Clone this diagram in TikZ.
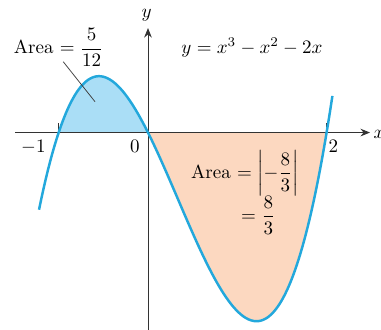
\documentclass[tikz,border=0pt]{standalone}
\usepackage{amsmath}
\usetikzlibrary{arrows.meta}
\definecolor{curveblue}{RGB}{35,168,220}
\definecolor{fillblue}{RGB}{170,222,246}
\definecolor{fillorange}{RGB}{252,216,192}
\begin{document}
\begin{tikzpicture}[x=1.65cm,y=1.65cm,
  axis/.style={line width=0.5pt,black!80},
  axisarrow/.style={axis,-{Stealth[length=5pt,width=4pt]}},
  curve/.style={curveblue,line width=1.3pt},
  lbl/.style={inner sep=1pt,font=\normalsize}]
\useasboundingbox (-1.657,-2.200) rectangle (2.609,1.484);
% fills
\fill[fillblue] plot[domain=-1:0,samples=60,smooth] (\x,{\x*\x*\x-\x*\x-2*\x}) -- cycle;
\fill[fillorange] plot[domain=0:2,samples=80,smooth] (\x,{\x*\x*\x-\x*\x-2*\x}) -- cycle;
% axes
\coordinate (xl) at (-1.489,0);
\coordinate (xr) at (2.486,0);
\coordinate (yb) at (0,-2.25);
\coordinate (yt) at (0,1.170);
\draw[axisarrow] (xl) -- (xr);
\draw[axisarrow] (yb) -- (yt);
\node[lbl,anchor=west] (xlab) at (2.50,-0.02) {$x$};
\node[lbl] (ylab) at (-0.015,1.31) {$y$};
% ticks
\coordinate (t1) at (-1,0);
\coordinate (t1u) at (-1,0.11);
\coordinate (t2) at (2,0);
\coordinate (t2u) at (2,0.11);
\draw[axis] (t1) -- (t1u);
\draw[axis] (t2) -- (t2u);
\node[lbl] (lm1) at (-1.283,-0.159) {$-1$};
\node[lbl] (l0) at (-0.146,-0.159) {$0$};
\node[lbl] (l2) at (2.075,-0.159) {$2$};
% curve
\draw[curve] plot[domain=-1.22:2.065,samples=120,smooth] (\x,{\x*\x*\x-\x*\x-2*\x});
% labels
\node[lbl] (eq) at (1.165,0.95) {$y = x^3 - x^2 - 2x$};
\node[lbl] (a1) at (-1.0,0.95) {Area $=\dfrac{5}{12}$};
\coordinate (a1p) at (-0.593,0.345);
\coordinate (a1s) at (-0.949,0.793);
\draw[line width=0.4pt,black!75] (a1s) -- (a1p);
\node[lbl] (a2) at (1.086,-0.457) {Area $=\left|-\dfrac{8}{3}\right|$};
\node[lbl] (a3) at (1.235,-0.924) {$=\dfrac{8}{3}$};
\end{tikzpicture}
\end{document}
